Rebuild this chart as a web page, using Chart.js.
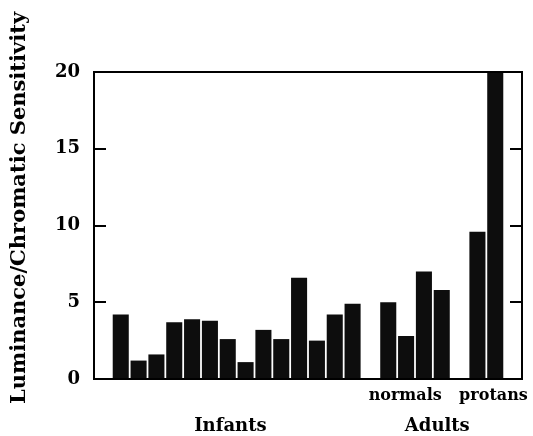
<!DOCTYPE html>
<html>
<head>
<meta charset="utf-8">
<style>
  html, body { margin: 0; padding: 0; background: #fff; }
  #wrap { width: 533px; height: 436px; }
</style>
<script src="https://cdn.jsdelivr.net/npm/chart.js@4.4.1/dist/chart.umd.min.js"></script>
</head>
<body>
<div id="wrap"><canvas id="chart" width="533" height="436"></canvas></div>
<script>
// 数据：每组的柱高
const infants = [4.2, 1.2, 1.6, 3.7, 3.9, 3.8, 2.6, 1.1, 3.2, 2.6, 6.6, 2.5, 4.2, 4.9];
const adultNormals = [5.0, 2.8, 7.0, 5.8];
const adultProtans = [9.6, 20];
const yTicks = [0, 5, 10, 15, 20];
const yTitle = "Luminance/Chromatic Sensitivity";

// 每组前后空一个位置
const values = [null, ...infants, null, ...adultNormals, null, ...adultProtans, null];
const slots = values.map((v, i) => "s" + i);

const FONT = "'DejaVu Serif', 'Liberation Serif', serif";

// 组标签：位置用类别索引表示
const iNormals = 1 + infants.length + 1;
const iProtans = iNormals + adultNormals.length + 1;
const groupTexts = [
    { text: "normals", idx: iNormals + (adultNormals.length - 1) / 2 - 0.55, row: 0, size: 16 },
    { text: "protans", idx: iProtans + (adultProtans.length - 1) / 2 + 0.4, row: 0, size: 16 },
    { text: "Infants", idx: 1 + (infants.length - 1) / 2 - 0.35, row: 1, size: 18 },
    { text: "Adults", idx: iNormals + (iProtans + 1 - iNormals) / 2 - 0.25, row: 1, size: 18 },
];

// 自定义插件：外框、向内的刻度线、组标签、纵轴标题
const framePlugin = {
    id: "framePlugin",
    afterDraw(chart) {
        const { ctx, chartArea } = chart;
        const y = chart.scales.y;
        const x = chart.scales.x;
        ctx.save();
        ctx.strokeStyle = "#000";
        ctx.lineWidth = 2;
        ctx.strokeRect(chartArea.left, chartArea.top,
            chartArea.right - chartArea.left, chartArea.bottom - chartArea.top);
        yTicks.forEach((t) => {
            const py = Math.round(y.getPixelForValue(t));
            if (t === 0 || t === 20) return;
            ctx.beginPath();
            ctx.moveTo(chartArea.left, py);
            ctx.lineTo(chartArea.left + 12, py);
            ctx.moveTo(chartArea.right, py);
            ctx.lineTo(chartArea.right - 12, py);
            ctx.stroke();
        });
        ctx.fillStyle = "#000";
        ctx.textAlign = "center";
        ctx.textBaseline = "middle";
        groupTexts.forEach((g) => {
            ctx.font = "bold " + g.size + "px " + FONT;
            const px = x.getPixelForValue(g.idx);
            const py = chartArea.bottom + (g.row === 0 ? 17 : 47);
            ctx.fillText(g.text, px, py);
        });
        // 纵轴标题（比图区中心略高）
        ctx.font = "bold 21px " + FONT;
        ctx.translate(20, 208);
        ctx.rotate(-Math.PI / 2);
        ctx.fillText(yTitle, 0, 0);
        ctx.restore();
    },
};

new Chart(document.getElementById("chart"), {
    type: "bar",
    data: {
        labels: slots,
        datasets: [
            {
                data: values,
                backgroundColor: "#0d0d0d",
                borderWidth: 0,
                barPercentage: 0.9,
                categoryPercentage: 1.0,
            },
        ],
    },
    options: {
        responsive: false,
        animation: false,
        layout: { padding: { left: 0, top: 72, right: 11, bottom: 57 } },
        plugins: {
            legend: { display: false },
            tooltip: { enabled: false },
        },
        scales: {
            x: {
                display: false,
                offset: true,
            },
            y: {
                min: 0,
                max: 20,
                afterFit(scale) {
                    scale.width = 94;
                },
                afterBuildTicks(scale) {
                    scale.ticks = yTicks.map((v) => ({ value: v }));
                },
                grid: { display: false, drawTicks: false },
                border: { display: false },
                ticks: {
                    color: "#000",
                    padding: 14,
                    font: { family: FONT, size: 18, weight: "bold" },
                },
            },
        },
    },
    plugins: [framePlugin],
});
</script>
</body>
</html>
